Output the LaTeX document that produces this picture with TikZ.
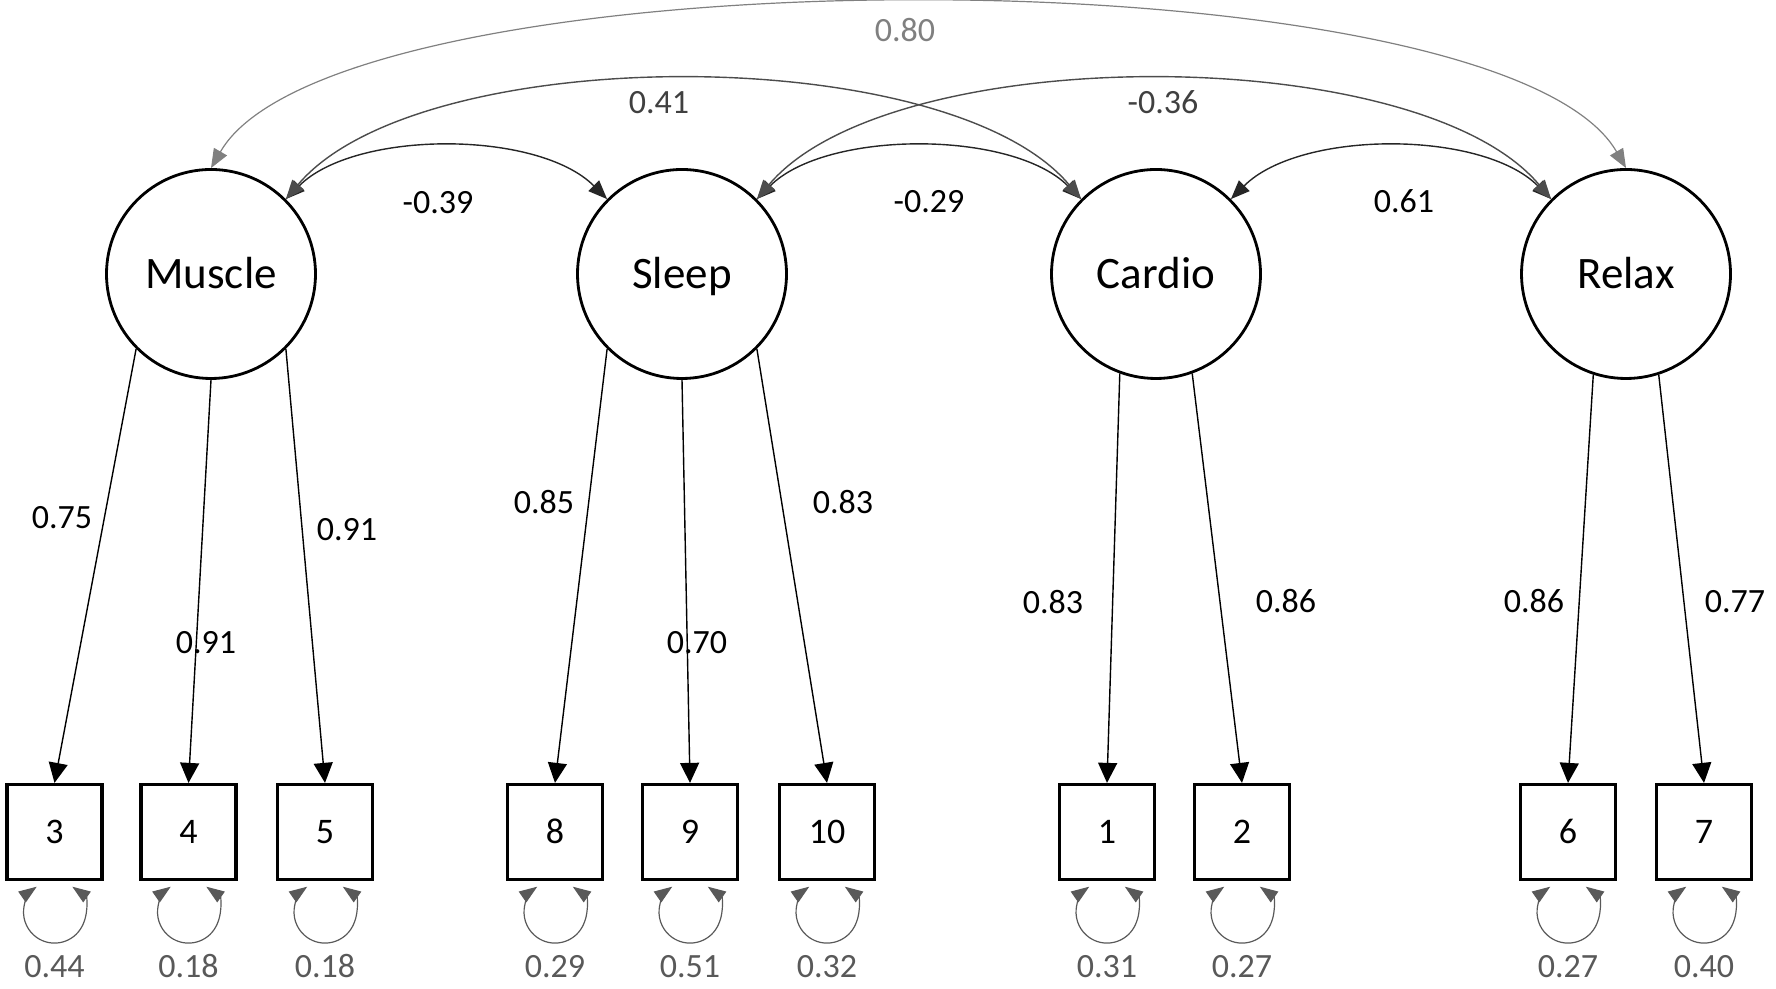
\documentclass[tikz,border=0pt]{standalone}
\usepackage{fontspec}
\setmainfont{Carlito}
\usetikzlibrary{positioning, arrows.meta}
\tikzset{
	latent/.style={circle, draw, line width=1.4pt, minimum size=104.5pt, inner sep=0pt, text height=14.5pt, text depth=0pt, font=\fontsize{22.5}{27}\selectfont},
	indicator/.style={rectangle, draw, line width=1.6pt, minimum size=47.5pt, inner sep=0pt, text height=11.3pt, text depth=0pt, font=\fontsize{18}{21}\selectfont},
	load/.style={line width=0.7pt, -{Triangle[length=10pt, width=9.5pt]}},
	cov/.style={line width=0.7pt, {Triangle[length=9.5pt, width=7.5pt]}-{Triangle[length=9.5pt, width=7.5pt]}},
	resid/.style={line width=0.6pt, draw=black!65, {Triangle[length=9pt, width=6.5pt]}-{Triangle[length=9pt, width=6.5pt]}},
	num/.style={inner sep=0pt, text height=10.7pt, text depth=0pt, font=\fontsize{17}{20}\selectfont},
}

\begin{document}
\begin{tikzpicture}[x=0.5pt, y=0.5pt]
			\useasboundingbox (0,0) rectangle (1776,989);

			\node[latent] (Muscle) at (211,715) {Muscle};
			\node[latent] (Sleep)  at (682,715) {Sleep};
			\node[latent] (Cardio) at (1156,715) {Cardio};
			\node[latent] (Relax)  at (1626,715) {Relax};

			\node[indicator] (b3)  at (54.5,157) {3};
			\node[indicator] (b4)  at (188.5,157) {4};
			\node[indicator] (b5)  at (325,157) {5};
			\node[indicator] (b8)  at (555,157) {8};
			\node[indicator] (b9)  at (690,157) {9};
			\node[indicator] (b10) at (827,157) {10};
			\node[indicator] (b1)  at (1107,157) {1};
			\node[indicator] (b2)  at (1242,157) {2};
			\node[indicator] (b6)  at (1568,157) {6};
			\node[indicator] (b7)  at (1704,157) {7};

			\draw[load] (Muscle.south west) -- (b3.north);
			\draw[load] (Muscle.south) -- (b4.north);
			\draw[load] (Muscle.south east) -- (b5.north);
			\draw[load] (Sleep.south west) -- (b8.north);
			\draw[load] (Sleep.south) -- (b9.north);
			\draw[load] (Sleep.south east) -- (b10.north);
			\draw[load] (Cardio.-110) -- (b1.north);
			\draw[load] (Cardio.-70) -- (b2.north);
			\draw[load] (Relax.-108) -- (b6.north);
			\draw[load] (Relax.-72) -- (b7.north);

			\node[num] (l3)  at (62,471) {0.75};
			\node[num] (l4)  at (206,346) {0.91};
			\node[num] (l5)  at (347,459) {0.91};
			\node[num] (l8)  at (544,486) {0.85};
			\node[num] (l9)  at (697,346) {0.70};
			\node[num] (l10) at (843,486) {0.83};
			\node[num] (l1)  at (1053,386) {0.83};
			\node[num] (l2)  at (1286,387) {0.86};
			\node[num] (l6)  at (1534,387) {0.86};
			\node[num] (l7)  at (1735,387) {0.77};

			\draw[cov, draw=black!85] (Muscle.45) .. controls +(45:98) and +(135:98) .. (Sleep.135);
			\draw[cov, draw=black!85] (Sleep.45) .. controls +(45:98) and +(135:98) .. (Cardio.135);
			\draw[cov, draw=black!85] (Cardio.45) .. controls +(45:98) and +(135:98) .. (Relax.135);
			\draw[cov, draw=black!70] (Muscle.45) .. controls +(50:207) and +(130:207) .. (Cardio.135);
			\draw[cov, draw=black!70] (Sleep.45) .. controls +(50:207) and +(130:207) .. (Relax.135);
			\draw[cov, draw=black!50, line width=0.6pt] (Muscle.north) .. controls +(60:253) and +(120:253) .. (Relax.north);

			\node[num] (cMS) at (438,786) {-0.39};
			\node[num] (cSC) at (929,787) {-0.29};
			\node[num] (cCR) at (1404,787) {0.61};
			\node[num, text=black!75] (cMC) at (659,886) {0.41};
			\node[num, text=black!75] (cSR) at (1163,886) {-0.36};
			\node[num, text=black!50] (cMR) at (905,958) {0.80};

			\draw[resid] ([shift={(17.8,-5.6)}]b3.south) arc[start angle=55, end angle=-235, radius=31];
			\draw[resid] ([shift={(17.8,-5.6)}]b4.south) arc[start angle=55, end angle=-235, radius=31];
			\draw[resid] ([shift={(17.8,-5.6)}]b5.south) arc[start angle=55, end angle=-235, radius=31];
			\draw[resid] ([shift={(17.8,-5.6)}]b8.south) arc[start angle=55, end angle=-235, radius=31];
			\draw[resid] ([shift={(17.8,-5.6)}]b9.south) arc[start angle=55, end angle=-235, radius=31];
			\draw[resid] ([shift={(17.8,-5.6)}]b10.south) arc[start angle=55, end angle=-235, radius=31];
			\draw[resid] ([shift={(17.8,-5.6)}]b1.south) arc[start angle=55, end angle=-235, radius=31];
			\draw[resid] ([shift={(17.8,-5.6)}]b2.south) arc[start angle=55, end angle=-235, radius=31];
			\draw[resid] ([shift={(17.8,-5.6)}]b6.south) arc[start angle=55, end angle=-235, radius=31];
			\draw[resid] ([shift={(17.8,-5.6)}]b7.south) arc[start angle=55, end angle=-235, radius=31];

			\node[num, text=black!65, below=37.5pt of b3]  (r3)  {0.44};
			\node[num, text=black!65, below=37.5pt of b4]  (r4)  {0.18};
			\node[num, text=black!65, below=37.5pt of b5]  (r5)  {0.18};
			\node[num, text=black!65, below=37.5pt of b8]  (r8)  {0.29};
			\node[num, text=black!65, below=37.5pt of b9]  (r9)  {0.51};
			\node[num, text=black!65, below=37.5pt of b10] (r10) {0.32};
			\node[num, text=black!65, below=37.5pt of b1]  (r1)  {0.31};
			\node[num, text=black!65, below=37.5pt of b2]  (r2)  {0.27};
			\node[num, text=black!65, below=37.5pt of b6]  (r6)  {0.27};
			\node[num, text=black!65, below=37.5pt of b7]  (r7)  {0.40};
\end{tikzpicture}
\end{document}
